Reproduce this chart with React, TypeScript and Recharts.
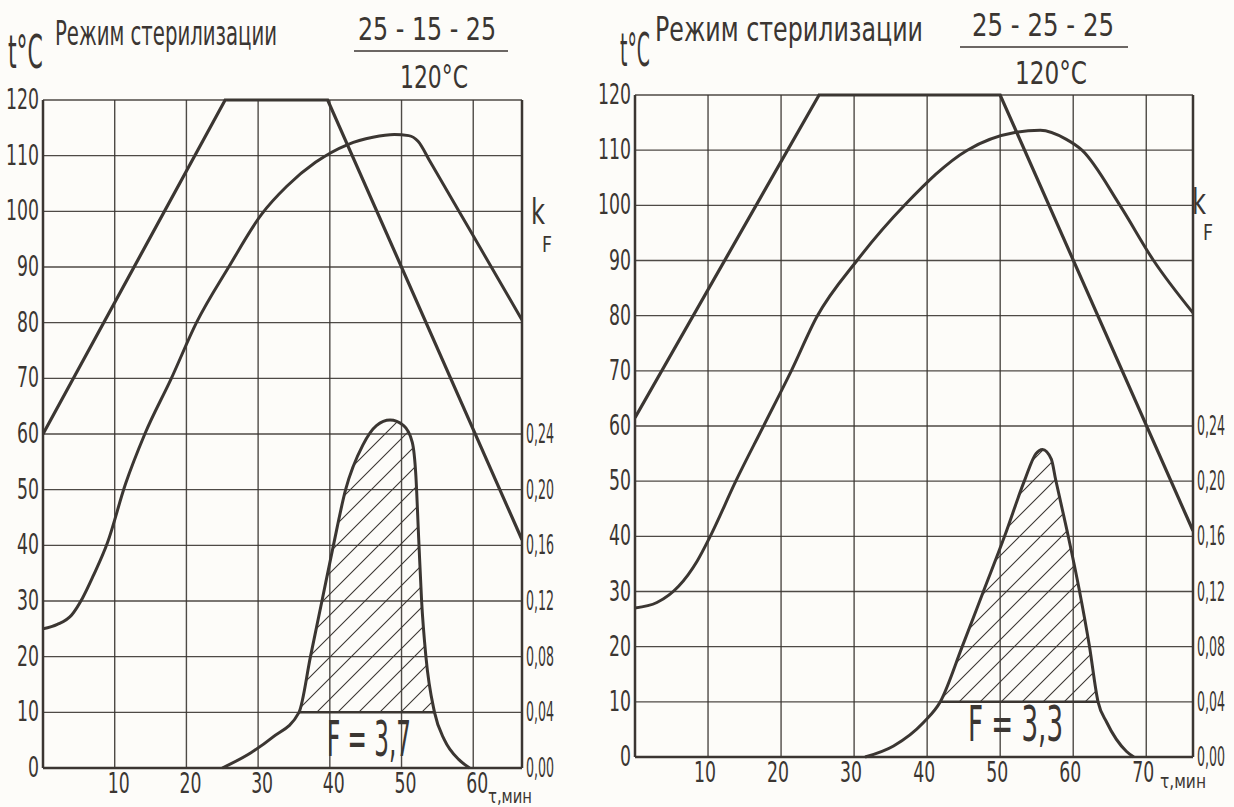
import {
    ComposedChart,
    Line,
    Area,
    XAxis,
    YAxis,
    CartesianGrid,
    ReferenceLine,
} from 'recharts';

const INK = '#3b3632';
const PAPER = '#fdfcf9';
const HAND = '"Liberation Sans Narrow", "DejaVu Sans Condensed", "Open Sans", sans-serif';

// shared axes
const tempTicks = [0, 10, 20, 30, 40, 50, 60, 70, 80, 90, 100, 110, 120];
const kfTicks = [0, 0.04, 0.08, 0.12, 0.16, 0.2, 0.24];
const hatchLevel = 0.04;

// Left panel: 25-15-25 at 120 C
const leftTimeTicks = [10, 20, 30, 40, 50, 60];
const leftMax = 66.8;
const leftChamber = [
    { t: 0, v: 60 }, { t: 25.4, v: 120 }, { t: 39.7, v: 120 }, { t: 66.8, v: 41 },
];
const leftProduct = [
    { t: 0, v: 25 }, { t: 2, v: 25.8 }, { t: 4, v: 27.5 }, { t: 5.5, v: 30.5 },
    { t: 7, v: 34.5 }, { t: 9, v: 40.5 }, { t: 11.5, v: 51 }, { t: 14.2, v: 60 },
    { t: 17.9, v: 70 }, { t: 21.4, v: 80 }, { t: 25.9, v: 90 }, { t: 30.5, v: 99.5 },
    { t: 34, v: 104.5 }, { t: 38, v: 108.8 }, { t: 42.5, v: 112 }, { t: 46, v: 113.3 },
    { t: 49, v: 113.8 }, { t: 51, v: 113.6 }, { t: 52.3, v: 112.6 }, { t: 54, v: 108.9 },
    { t: 60, v: 95.6 }, { t: 66.8, v: 80.5 },
];
const leftKf = [
    { t: 25, v: 0 }, { t: 29, v: 0.011 }, { t: 32, v: 0.022 }, { t: 35.7, v: 0.04 },
    { t: 37.3, v: 0.08 }, { t: 38.9, v: 0.12 }, { t: 40.5, v: 0.16 }, { t: 42.2, v: 0.2 },
    { t: 44.6, v: 0.232 }, { t: 46.5, v: 0.246 }, { t: 48.4, v: 0.25 }, { t: 50.3, v: 0.246 },
    { t: 51.5, v: 0.234 }, { t: 52, v: 0.21 }, { t: 52.4, v: 0.164 }, { t: 52.8, v: 0.12 },
    { t: 53.4, v: 0.08 }, { t: 54.6, v: 0.04 }, { t: 56, v: 0.02 }, { t: 58, v: 0.006 },
    { t: 59.5, v: 0 },
];
const leftHatch = [35.7, 54.6];

// Right panel: 25-25-25 at 120 C
const rightTimeTicks = [10, 20, 30, 40, 50, 60, 70];
const rightMax = 76.4;
const rightChamber = [
    { t: 0, v: 61.5 }, { t: 25.2, v: 120 }, { t: 50, v: 120 }, { t: 76.4, v: 41 },
];
const rightProduct = [
    { t: 0, v: 27 }, { t: 3, v: 28 }, { t: 6, v: 31 }, { t: 8.5, v: 35.5 },
    { t: 10.3, v: 40 }, { t: 13.8, v: 50 }, { t: 17.6, v: 60 }, { t: 21.4, v: 70 },
    { t: 24.9, v: 79.8 }, { t: 30.4, v: 90 }, { t: 36.9, v: 100 }, { t: 45.5, v: 110 },
    { t: 52, v: 113.2 }, { t: 55.5, v: 113.6 }, { t: 59, v: 112 }, { t: 61.2, v: 110 },
    { t: 66.4, v: 100 }, { t: 71, v: 90 }, { t: 76.4, v: 80.5 },
];
const rightKf = [
    { t: 31.5, v: 0 }, { t: 35.4, v: 0.008 }, { t: 39.5, v: 0.025 }, { t: 41.8, v: 0.04 },
    { t: 44.8, v: 0.08 }, { t: 47.7, v: 0.12 }, { t: 50.6, v: 0.16 }, { t: 53.3, v: 0.2 },
    { t: 54.9, v: 0.22 }, { t: 55.8, v: 0.223 }, { t: 57, v: 0.216 }, { t: 57.6, v: 0.201 },
    { t: 59.2, v: 0.163 }, { t: 60.8, v: 0.122 }, { t: 62.2, v: 0.081 }, { t: 63.4, v: 0.04 },
    { t: 64.6, v: 0.025 }, { t: 67.3, v: 0.004 }, { t: 68.3, v: 0 },
];
const rightHatch = [41.8, 63.4];

const fmtK = (v: number) => v.toFixed(2).replace('.', ',');

// narrow "hand-lettered" text: squeezed horizontally to width w
function Hand({ x, y, w, s, size, anchor = 'start', children }: any) {
    return (
        <text
            transform={`translate(${x},${y}) scale(${s},1)`}
            fontSize={size}
            fontFamily={HAND}
            fill={INK}
            textAnchor={anchor}
            textLength={w / s}
            lengthAdjust="spacingAndGlyphs"
        >
            {children}
        </text>
    );
}

function NarrowTick(props: any) {
    const { x, y, payload, textAnchor, kind, dx = 0, formatter } = props;
    const label = formatter ? formatter(payload.value) : String(payload.value);
    const isK = kind === 'k';
    const w = isK ? 28 : label.length * 11;
    return (
        <Hand
            x={x + dx}
            y={y + (kind === 'x' ? 20 : 9)}
            w={w}
            s={isK ? 0.55 : 0.62}
            size={isK ? 26 : 28}
            anchor={textAnchor}
        >
            {label}
        </Hand>
    );
}

interface PanelProps {
    id: string;
    left: number;
    width: number;
    margin: { top: number; right: number; bottom: number; left: number };
    tAxisWidth: number;
    kAxisWidth: number;
    xMax: number;
    xDx: number;
    timeTicks: number[];
    chamber: { t: number; v: number }[];
    product: { t: number; v: number }[];
    kf: { t: number; v: number }[];
    hatch: number[];
}

function Panel(p: PanelProps) {
    // hatched part of the kF curve (above 0.04)
    const hatchData = p.kf.filter(d => d.t >= p.hatch[0] && d.t <= p.hatch[1]);
    return (
        <div style={{ position: 'absolute', left: p.left, top: 0 }}>
            <ComposedChart width={p.width} height={807} margin={p.margin}>
                <defs>
                    <pattern id={`hatch-${p.id}`} patternUnits="userSpaceOnUse" width={21} height={21}>
                        <path d="M0,21 L21,0 M-3,3 L3,-3 M18,24 L24,18" stroke={INK} strokeWidth={1.1} />
                    </pattern>
                </defs>
                <CartesianGrid yAxisId="t" stroke={INK} strokeWidth={1.4} strokeOpacity={0.9} />
                <XAxis
                    dataKey="t"
                    type="number"
                    domain={[0, p.xMax]}
                    ticks={p.timeTicks}
                    allowDataOverflow
                    tickLine={false}
                    tickSize={3}
                    tickMargin={2}
                    axisLine={{ stroke: INK, strokeWidth: 2.5 }}
                    tick={(props: any) => <NarrowTick {...props} kind="x" dx={p.xDx} />}
                    height={30}
                />
                <YAxis
                    yAxisId="t"
                    domain={[0, 120]}
                    ticks={tempTicks}
                    tickLine={false}
                    tickSize={3}
                    tickMargin={1}
                    axisLine={{ stroke: INK, strokeWidth: 2.5 }}
                    tick={(props: any) => <NarrowTick {...props} kind="t" />}
                    width={p.tAxisWidth}
                />
                <YAxis
                    yAxisId="k"
                    orientation="right"
                    domain={[0, 0.48]}
                    ticks={kfTicks}
                    tickLine={false}
                    tickSize={3}
                    tickMargin={1}
                    axisLine={{ stroke: INK, strokeWidth: 2.5 }}
                    tick={(props: any) => <NarrowTick {...props} kind="k" formatter={fmtK} />}
                    width={p.kAxisWidth}
                />
                <Area
                    yAxisId="k"
                    data={hatchData}
                    dataKey="v"
                    type="monotone"
                    baseValue={hatchLevel}
                    stroke="none"
                    fill={`url(#hatch-${p.id})`}
                    fillOpacity={1}
                    isAnimationActive={false}
                />
                <ReferenceLine
                    yAxisId="k"
                    segment={[{ x: p.hatch[0], y: hatchLevel }, { x: p.hatch[1], y: hatchLevel }]}
                    stroke={INK}
                    strokeWidth={2.5}
                />
                <Line
                    yAxisId="t"
                    data={p.chamber}
                    dataKey="v"
                    type="linear"
                    stroke={INK}
                    strokeWidth={3.2}
                    dot={false}
                    isAnimationActive={false}
                />
                <Line
                    yAxisId="t"
                    data={p.product}
                    dataKey="v"
                    type="monotone"
                    stroke={INK}
                    strokeWidth={3}
                    dot={false}
                    isAnimationActive={false}
                />
                <Line
                    yAxisId="k"
                    data={p.kf}
                    dataKey="v"
                    type="monotone"
                    stroke={INK}
                    strokeWidth={3}
                    dot={false}
                    isAnimationActive={false}
                />
            </ComposedChart>
        </div>
    );
}

function Notes() {
    return (
        <svg width={1234} height={807} style={{ position: 'absolute', left: 0, top: 0, pointerEvents: 'none' }}>
            {/* left panel */}
            <Hand x={8} y={68} w={35} s={0.5} size={46}>t°C</Hand>
            <Hand x={55} y={45} w={222} s={0.64} size={34}>Режим стерилизации</Hand>
            <Hand x={358} y={40} w={138} s={0.76} size={32}>25 - 15 - 25</Hand>
            <line x1={354} x2={508} y1={51} y2={51} stroke={INK} strokeWidth={1.6} />
            <Hand x={400} y={88} w={68} s={0.7} size={32}>120°C</Hand>
            <Hand x={531} y={224} w={14} s={0.65} size={36}>k</Hand>
            <Hand x={542} y={252} w={10} s={0.8} size={22}>F</Hand>
            <Hand x={327} y={756} w={84} s={0.48} size={50}>F = 3,7</Hand>
            <Hand x={488} y={803} w={44} s={0.9} size={20}>τ,мин</Hand>

            {/* right panel */}
            <Hand x={620} y={66} w={30} s={0.45} size={46}>t°C</Hand>
            <Hand x={655} y={41} w={268} s={0.76} size={34}>Режим стерилизации</Hand>
            <Hand x={972} y={36} w={142} s={0.78} size={32}>25 - 25 - 25</Hand>
            <line x1={960} x2={1128} y1={47} y2={47} stroke={INK} strokeWidth={1.6} />
            <Hand x={1015} y={84} w={72} s={0.74} size={32}>120°C</Hand>
            <Hand x={1192} y={214} w={14} s={0.65} size={36}>k</Hand>
            <Hand x={1203} y={240} w={10} s={0.8} size={22}>F</Hand>
            <Hand x={968} y={741} w={95} s={0.54} size={50}>F = 3,3</Hand>
            <Hand x={1160} y={788} w={46} s={0.9} size={20}>τ,мин</Hand>
        </svg>
    );
}

export default function App() {
    return (
        <div style={{ position: 'absolute', left: 0, top: 0, width: 1234, height: 807, background: PAPER, overflow: 'hidden' }}>
            <Panel
                id="l"
                left={0}
                width={590}
                margin={{ top: 100, right: 8, bottom: 9, left: 0 }}
                tAxisWidth={43}
                kAxisWidth={60}
                xMax={leftMax}
                xDx={4}
                timeTicks={leftTimeTicks}
                chamber={leftChamber}
                product={leftProduct}
                kf={leftKf}
                hatch={leftHatch}
            />
            <Panel
                id="r"
                left={590}
                width={644}
                margin={{ top: 95, right: 0, bottom: 20, left: 0 }}
                tAxisWidth={45}
                kAxisWidth={41}
                xMax={rightMax}
                xDx={-3}
                timeTicks={rightTimeTicks}
                chamber={rightChamber}
                product={rightProduct}
                kf={rightKf}
                hatch={rightHatch}
            />
            <Notes />
        </div>
    );
}
